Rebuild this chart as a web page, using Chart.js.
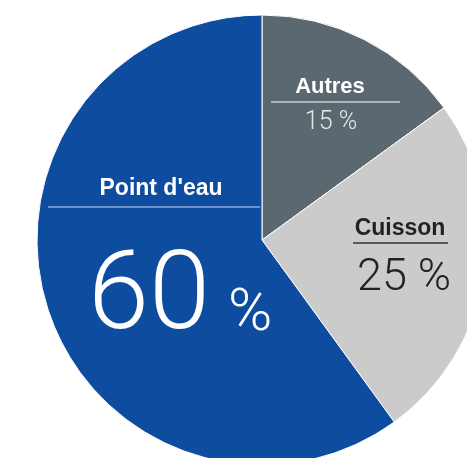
<!DOCTYPE html>
<html>
<head>
<meta charset="utf-8">
<script src="https://cdn.jsdelivr.net/npm/chart.js@4/dist/chart.umd.min.js"></script>
<style>
	html, body { margin: 0; padding: 0; background: #fff; overflow: hidden; }
	#wrap { position: absolute; left: 0; top: 0; width: 467px; height: 458px; overflow: hidden; }
	#chart-usage { position: absolute; left: 0; top: 0; }
</style>
</head>
<body>
<div id="wrap"><canvas id="chart-usage" width="524" height="480"></canvas></div>
<script>
const categories = ["Autres", "Cuisson", "Point d'eau"];
const shares = [15, 25, 60];
const sliceColors = ["#5b6870", "#cbcbcb", "#0e4ca0"];

const NAME_FONT = "'Liberation Sans', Arial, sans-serif";
const VALUE_FONT = "Roboto, 'Liberation Sans', sans-serif";

// label placement for each slice, offsets from the pie centre
const LABEL_LAYOUT = [
	{ name: { dx: 68, dy: -147, size: 22, color: "#ffffff" }, rule: { x1: 9, x2: 138, dy: -138, color: "#c9ced3" }, value: { dx: 69, dy: -111, size: 25, color: "#e6e9ec" } },
	{ name: { dx: 138, dy: -5, size: 23, color: "#222222" }, rule: { x1: 91, x2: 186, dy: 3, color: "#333333" }, value: { dx: 142, dy: 50, size: 45, color: "#222222" } },
	{ name: { dx: -101, dy: -45, size: 23, color: "#ffffff" }, rule: { x1: -214, x2: -2, dy: -33, color: "#8ea7d2" }, value: { dx: -174, dy: 88, size: 110, color: "#ffffff", pctDx: -34, pctSize: 60 } },
];

const sliceLabels = {
	id: "sliceLabels",
	afterDatasetsDraw(chart) {
		const { ctx } = chart;
		const arcs = chart.getDatasetMeta(0).data;
		arcs.forEach((arc, i) => {
			const cx = arc.x;
			const cy = arc.y;
			const l = LABEL_LAYOUT[i];
			ctx.save();
			ctx.textBaseline = "alphabetic";

			// category name
			ctx.fillStyle = l.name.color;
			ctx.textAlign = "center";
			ctx.font = "bold " + l.name.size + "px " + NAME_FONT;
			ctx.fillText(categories[i], cx + l.name.dx, cy + l.name.dy);

			// rule under the name
			ctx.strokeStyle = l.rule.color;
			ctx.lineWidth = 1.3;
			ctx.beginPath();
			ctx.moveTo(cx + l.rule.x1, cy + l.rule.dy);
			ctx.lineTo(cx + l.rule.x2, cy + l.rule.dy);
			ctx.stroke();

			// share
			ctx.fillStyle = l.value.color;
			ctx.font = "300 " + l.value.size + "px " + VALUE_FONT;
			if (l.value.pctSize) {
				ctx.textAlign = "left";
				ctx.fillText(String(shares[i]), cx + l.value.dx, cy + l.value.dy);
				ctx.font = "300 " + l.value.pctSize + "px " + VALUE_FONT;
				ctx.fillText("%", cx + l.value.pctDx, cy + l.value.dy + 2);
			} else {
				ctx.fillText(shares[i] + " %", cx + l.value.dx, cy + l.value.dy);
			}
			ctx.restore();
		});
	},
};

const CHART_DATA = {
	labels: categories,
	datasets: [
		{
			data: shares,
			backgroundColor: sliceColors,
			borderColor: "#ffffff",
			borderWidth: 1,
			hoverOffset: 0,
		},
	],
};

const CHART_CONFIG = {
	type: "pie",
	data: CHART_DATA,
	options: {
		responsive: false,
		animation: false,
		radius: 225,
		layout: {
			padding: { top: 15, bottom: 15, left: 37, right: 37 },
		},
		plugins: {
			legend: { display: false },
			tooltip: { enabled: false },
		},
	},
	plugins: [sliceLabels],
};

new Chart(document.getElementById("chart-usage"), CHART_CONFIG);
</script>
</body>
</html>
